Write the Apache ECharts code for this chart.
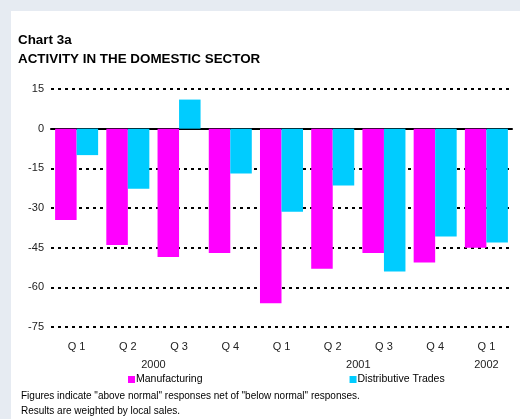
<!DOCTYPE html>
<html>
<head>
<meta charset="utf-8">
<script src="https://cdn.jsdelivr.net/npm/echarts@6/dist/echarts.min.js"></script>
<style>
  html, body { margin: 0; padding: 0; background: #e6ebf2; }
  #chart { width: 520px; height: 419px; }
</style>
</head>
<body>
<div id="chart"></div>
<script>
// quarters and the year each belongs to
var categories = ['Q 1', 'Q 2', 'Q 3', 'Q 4', 'Q 1', 'Q 2', 'Q 3', 'Q 4', 'Q 1'];
var years = ['2000', '2000', '2000', '2000', '2001', '2001', '2001', '2001', '2002'];
var manufacturing = [-34.5, -44, -48.5, -47, -66, -53, -47, -50.6, -45];
var distributive = [-10, -22.7, 11, -17, -31.4, -21.5, -54, -40.8, -43];
var yTicks = [15, 0, -15, -30, -45, -60, -75];

(function(){
  var chart = echarts.init(document.getElementById('chart')),
      font = '"Liberation Sans", Arial, sans-serif',
      dotted = {color: '#000', width: 2, type: [3, 4]};

  // year label sits under the middle of its quarters
  var yearNames = [], yearPos = [];
  years.forEach(function(y, i){
    var k = yearNames.indexOf(y);
    if (k < 0) { yearNames.push(y); yearPos.push([i]); }
    else yearPos[k].push(i);
  });
  yearPos = yearPos.map(function(a){
    return a.reduce(function(s, v){ return s + v; }, 0) / a.length;
  });

  var option = {
    backgroundColor: '#e6ebf2',
    animation: false,
    textStyle: {fontFamily: font},
    graphic: [{
      type: 'rect', z: -10, silent: true,
      shape: {x: 11, y: 11, width: 520, height: 420},
      style: {fill: '#fff'}
    }],
    title: [{
      text: 'Chart 3a\nACTIVITY IN THE DOMESTIC SECTOR',
      left: 18, top: 31, padding: 0,
      textStyle: {fontFamily: font, fontSize: 13.4, fontWeight: 'bold', color: '#000', lineHeight: 19}
    }, {
      text: 'Figures indicate "above normal" responses net of "below normal" responses.\nResults are weighted by local sales.',
      left: 21, top: 389, padding: 0,
      textStyle: {fontFamily: font, fontSize: 10, fontWeight: 'normal', color: '#000', lineHeight: 15}
    }],
    legend: {
      data: ['Manufacturing', 'Distributive Trades'],
      left: 128, top: 374, padding: 0,
      itemWidth: 7, itemHeight: 7, itemGap: 147,
      icon: 'rect',
      textStyle: {fontFamily: font, fontSize: 10.5, color: '#000', padding: [0, 0, 0, -4]}
    },
    grid: {left: 51, right: 8, top: 89, bottom: 92},
    xAxis: [{
      type: 'category',
      data: categories,
      axisLine: {onZero: true, lineStyle: {color: '#000', width: 2}},
      axisTick: {show: false},
      axisLabel: {show: false}
    }, {
      type: 'category',
      data: categories,
      position: 'bottom',
      axisLine: {show: false, onZero: false},
      axisTick: {show: false},
      axisLabel: {margin: 14, fontSize: 11, color: '#222', fontFamily: font}
    }, {
      type: 'value',
      min: -0.5, max: categories.length - 0.5,
      position: 'bottom',
      axisLine: {show: false, onZero: false},
      axisTick: {show: false},
      splitLine: {show: false},
      axisLabel: {
        margin: 32, fontSize: 11, color: '#222', fontFamily: font,
        customValues: yearPos,
        formatter: function(v){
          var k = yearPos.indexOf(v);
          return k < 0 ? '' : yearNames[k];
        }
      }
    }],
    yAxis: {
      type: 'value',
      min: yTicks[yTicks.length - 1], max: yTicks[0], interval: 15,
      axisLine: {show: false},
      axisTick: {show: false},
      axisLabel: {margin: 7, fontSize: 11, color: '#222', fontFamily: font},
      splitLine: {lineStyle: dotted}
    },
    series: [{
      name: 'Manufacturing',
      type: 'bar',
      xAxisIndex: 0,
      data: manufacturing,
      barGap: '0%',
      barCategoryGap: '16%',
      itemStyle: {color: '#ff00ff'}
    }, {
      name: 'Distributive Trades',
      type: 'bar',
      xAxisIndex: 0,
      data: distributive,
      barGap: '0%',
      barCategoryGap: '16%',
      itemStyle: {color: '#00ccff'}
    }]
  };

  chart.setOption(option);
})();
</script>
</body>
</html>
